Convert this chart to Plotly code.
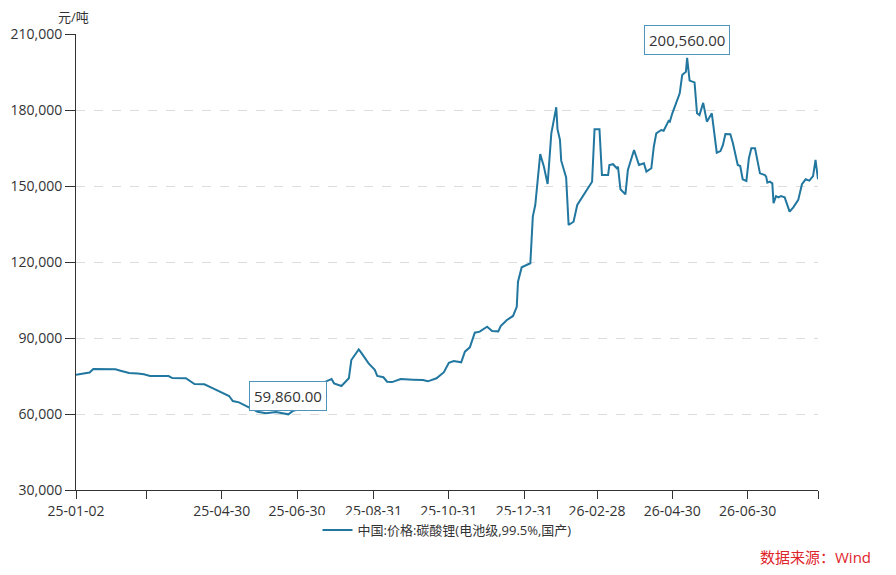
import plotly.graph_objects as go

# 中国:价格:碳酸锂(电池级,99.5%,国产), 元/吨
dates = [
    "2025-01-02", "2025-01-09", "2025-01-13", "2025-01-16", "2025-02-03", "2025-02-07",
    "2025-02-14", "2025-02-21", "2025-02-26", "2025-03-03", "2025-03-10", "2025-03-18",
    "2025-03-21", "2025-04-01", "2025-04-08", "2025-04-16", "2025-04-23", "2025-04-30",
    "2025-05-06", "2025-05-09", "2025-05-14", "2025-05-22", "2025-05-29", "2025-06-05",
    "2025-06-13", "2025-06-23", "2025-06-27", "2025-07-04", "2025-07-10", "2025-07-16",
    "2025-07-23", "2025-07-28", "2025-07-30", "2025-08-05", "2025-08-11", "2025-08-13",
    "2025-08-19", "2025-08-21", "2025-08-27", "2025-09-01", "2025-09-03", "2025-09-08",
    "2025-09-11", "2025-09-15", "2025-09-22", "2025-10-02", "2025-10-10", "2025-10-14",
    "2025-10-21", "2025-10-27", "2025-10-31", "2025-11-04", "2025-11-10", "2025-11-13",
    "2025-11-17", "2025-11-21", "2025-11-25", "2025-12-01", "2025-12-05", "2025-12-10",
    "2025-12-12", "2025-12-17", "2025-12-22", "2025-12-25", "2025-12-26", "2025-12-29",
    "2026-01-05", "2026-01-07", "2026-01-09", "2026-01-13", "2026-01-16", "2026-01-19",
    "2026-01-22", "2026-01-26", "2026-01-27", "2026-01-29", "2026-01-30", "2026-02-03",
    "2026-02-05", "2026-02-09", "2026-02-12", "2026-02-24", "2026-02-26", "2026-03-02",
    "2026-03-04", "2026-03-09", "2026-03-10", "2026-03-13", "2026-03-16", "2026-03-17",
    "2026-03-19", "2026-03-23", "2026-03-25", "2026-03-30", "2026-04-03", "2026-04-07",
    "2026-04-09", "2026-04-13", "2026-04-15", "2026-04-17", "2026-04-21", "2026-04-23",
    "2026-04-27", "2026-04-28", "2026-04-30", "2026-05-06", "2026-05-08", "2026-05-11",
    "2026-05-12", "2026-05-14", "2026-05-18", "2026-05-20", "2026-05-22", "2026-05-25",
    "2026-05-28", "2026-06-01", "2026-06-03", "2026-06-05", "2026-06-08", "2026-06-10",
    "2026-06-12", "2026-06-16", "2026-06-18", "2026-06-22", "2026-06-24", "2026-06-26",
    "2026-06-29", "2026-07-01", "2026-07-03", "2026-07-06", "2026-07-10", "2026-07-14",
    "2026-07-15", "2026-07-16", "2026-07-18", "2026-07-20", "2026-07-21", "2026-07-23",
    "2026-07-25", "2026-07-27", "2026-07-30", "2026-08-01", "2026-08-03", "2026-08-06",
    "2026-08-10", "2026-08-13", "2026-08-16", "2026-08-19", "2026-08-22", "2026-08-24",
    "2026-08-26",
]
prices = [
    75500, 75900, 76400, 77800, 77650, 77100,
    76200, 76000, 75650, 75000, 75100, 75000,
    74200, 74100, 71800, 71700, 70100, 68400,
    67100, 65100, 64600, 62650, 60900, 60270,
    60800, 59860, 61300, 62250, 64000, 68000,
    72750, 73800, 72100, 71050, 74100, 81300,
    85500, 84200, 80000, 77400, 75000, 74500,
    72750, 72600, 73800, 73550, 73400, 72900,
    74100, 76500, 80250, 80900, 80400, 84600,
    86300, 92100, 92500, 94460, 92800, 92630,
    94740, 97100, 98700, 102300, 112200, 117900,
    119500, 137900, 142500, 162600, 157600, 150800,
    170800, 181100, 172400, 168200, 160000, 153400,
    134600, 135900, 142500, 151700, 172400, 172400,
    154300, 154300, 158300, 158600, 157000, 157600,
    148700, 146700, 156300, 164200, 158300, 159000,
    155700, 157000, 165500, 170800, 172100, 171800,
    175700, 175400, 178700, 186600, 193800, 195100,
    200560, 191600, 190900, 178700, 178000, 182800,
    175400, 178700, 170800, 163150, 163800, 166200,
    170500, 170400, 167100, 158300, 157900, 152650,
    152000, 160900, 164900, 164900, 155000, 154300,
    153700, 151300, 151700, 151050, 143200, 146000,
    145500, 146000, 145500, 142500, 139900, 141600,
    144500, 150700, 152650, 152100, 153900, 160300,
    152650,
]

tick_vals = ["2025-01-02", "2025-02-28", "2025-04-30", "2025-06-30", "2025-08-31",
             "2025-10-31", "2025-12-31", "2026-02-28", "2026-04-30", "2026-06-30",
             "2026-08-26"]
tick_text = ["25-01-02", "", "25-04-30", "25-06-30", "25-08-31",
             "25-10-31", "25-12-31", "26-02-28", "26-04-30", "26-06-30", ""]

min_date, min_price = "2025-06-23", 59860
max_date, max_price = "2026-05-12", 200560

font_family = "Open Sans, Noto Sans CJK SC, sans-serif"
line_color = "#21779f"

fig = go.Figure()
fig.add_trace(go.Scatter(
    x=dates, y=prices, mode="lines",
    name="中国:价格:碳酸锂(电池级,99.5%,国产)",
    line=dict(color=line_color, width=2),
))

# max / min labels
for d, p in [(min_date, min_price), (max_date, max_price)]:
    fig.add_annotation(
        x=d, y=p, text=f"{p:,.2f}", showarrow=False,
        yanchor="bottom", yshift=3,
        font=dict(size=15, color="#333333", family=font_family),
        bgcolor="white", bordercolor="#4f94bd", borderwidth=1, borderpad=4,
    )

fig.add_annotation(x=-0.004, y=1.037, xref="paper", yref="paper", text="元/吨",
                   xanchor="center", yanchor="middle",
                   showarrow=False, font=dict(size=13, color="#333333", family=font_family))
fig.add_annotation(x=1.074, y=-0.147, xref="paper", yref="paper", text="数据来源：Wind",
                   xanchor="right", yanchor="middle", showarrow=False,
                   font=dict(size=15, color="#e0242b", family=font_family))

# page body adds an 8px offset, so margins are shifted to compensate
fig.update_layout(
    width=896, height=575,
    margin=dict(l=68, r=86, t=26, b=93),
    paper_bgcolor="white", plot_bgcolor="white",
    font=dict(family=font_family, size=13, color="#333333"),
    showlegend=True,
    legend=dict(orientation="h", x=0.5, xanchor="center", y=-0.088, yanchor="middle",
                font=dict(size=13, color="#333333")),
)
fig.update_xaxes(
    type="date", range=["2025-01-02", "2026-08-26"],
    tickmode="array", tickvals=tick_vals, ticktext=tick_text,
    showline=True, linecolor="#333333", linewidth=1,
    ticks="outside", ticklen=8, tickcolor="#333333",
    showgrid=False, zeroline=False, automargin=False,
    tickfont=dict(size=14, color="#333333"),
)
fig.update_yaxes(
    range=[30000, 210000], dtick=30000, tick0=30000, tickformat=",",
    showline=True, linecolor="#333333", linewidth=1,
    ticks="outside", ticklen=10, tickcolor="#333333",
    showgrid=True, gridcolor="#dddddd", griddash="dash",
    zeroline=False, automargin=False,
    tickfont=dict(size=14, color="#333333"),
)

fig.write_html("out.html")
